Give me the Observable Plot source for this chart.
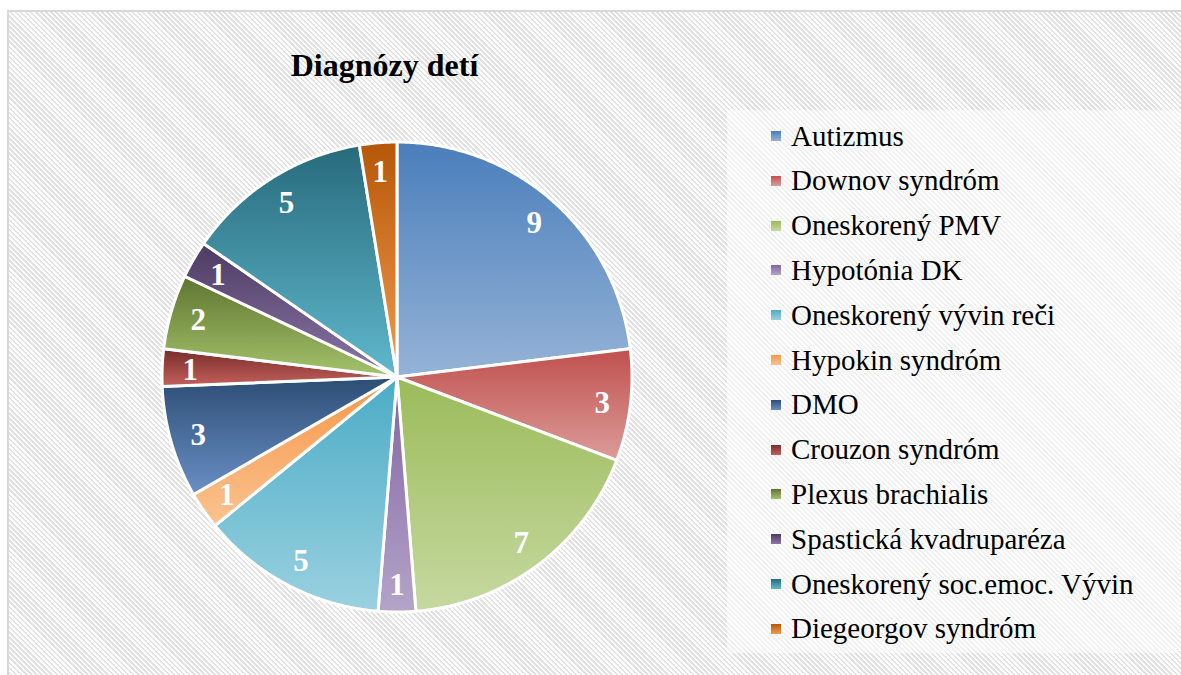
<!DOCTYPE html>
<html>
<head>
<meta charset="utf-8">
<script src="https://cdn.jsdelivr.net/npm/d3@7"></script>
<script src="https://cdn.jsdelivr.net/npm/@observablehq/plot@0.6"></script>
<style>
  html, body { margin: 0; padding: 0; background: #fff; }
  #wrap { position: relative; width: 1181px; height: 675px; overflow: hidden; font-family: "Liberation Serif", "Times New Roman", serif; }
  #frame { position: absolute; left: 7px; top: 10px; width: 1200px; height: 700px;
    border-left: 2px solid #d9d9d9; border-top: 2px solid #d9d9d9;
    background: repeating-linear-gradient(45deg, #ffffff 0px, #ffffff 1.8px, #e2e2e2 1.8px, #e2e2e2 3.6px); }
  #title { position: absolute; left: 0; width: 769px; top: 49px; text-align: center; font-size: 32px; line-height: 32px; font-weight: bold; color: #000; }
  #legendBox { position: absolute; left: 727px; top: 110px; width: 470px; height: 543px; background: rgba(255,255,255,0.5); }
  #legend { position: absolute; left: 771px; top: 113.6px; }
  .row { display: flex; align-items: center; height: 44.8px; font-size: 29px; line-height: 44.8px; color: #000; white-space: nowrap; }
  .sw { width: 10px; height: 10px; margin-right: 10px; flex: none; }
  #chart { position: absolute; left: 0; top: 0; }
</style>
</head>
<body>
<div id="wrap">
  <div id="frame"></div>
  <div id="legendBox"></div>
  <div id="title"></div>
  <div id="chart"></div>
  <div id="legend"></div>
</div>
<script>
const title = "Diagnózy detí";
const categories = ["Autizmus", "Downov syndróm", "Oneskorený PMV", "Hypotónia DK", "Oneskorený vývin reči", "Hypokin syndróm", "DMO", "Crouzon syndróm", "Plexus brachialis", "Spastická kvadruparéza", "Oneskorený soc.emoc. Vývin", "Diegeorgov syndróm"];
const values = [9, 3, 7, 1, 5, 1, 3, 1, 2, 1, 5, 1];
const topColors = ["#4a7ebb", "#c0504d", "#9bbb59", "#8064a2", "#4bacc6", "#f79646", "#2c4d75", "#772c2a", "#5f7530", "#4d3b62", "#276a7c", "#b65708"];
const bottomColors = ["#95b3d7", "#dc9c9a", "#c6d9a1", "#b4a4c8", "#9ad1e0", "#fac391", "#6a8fc4", "#c4605c", "#a5c36c", "#8c77a8", "#60b8cc", "#f29b4e"];

document.getElementById("title").textContent = title;

const data = categories.map((c, i) => ({category: c, value: values[i], index: i}));
const arcs = d3.pie().sort(null).value(d => d.value)(data);

const step = Math.PI / 360;
const polyPoints = [];
const labels = [];
arcs.forEach(a => {
  const name = a.data.category;
  polyPoints.push({category: name, x: 0, y: 0});
  const n = Math.max(2, Math.ceil((a.endAngle - a.startAngle) / step));
  for (let k = 0; k <= n; k++) {
    const t = a.startAngle + (a.endAngle - a.startAngle) * k / n;
    polyPoints.push({category: name, x: Math.sin(t), y: Math.cos(t)});
  }
  polyPoints.push({category: name, x: 0, y: 0});
  const mid = (a.startAngle + a.endAngle) / 2;
  labels.push({x: 0.88 * Math.sin(mid), y: 0.88 * Math.cos(mid), text: String(a.data.value)});
});

const gradIds = categories.map((c, i) => `url(#sliceGrad${i})`);

const cx = 396.5, cy = 376.5, r = 235;
const svg = Plot.plot({
  width: 1181,
  height: 675,
  style: {background: "transparent", overflow: "visible"},
  x: {domain: [-1, 1], range: [cx - r, cx + r], axis: null},
  y: {domain: [-1, 1], range: [cy + r, cy - r], axis: null},
  color: {domain: categories, range: gradIds},
  marks: [
    Plot.line(polyPoints, {x: "x", y: "y", z: "category", fill: "category", stroke: "white", strokeWidth: 3, strokeLinejoin: "miter", strokeMiterlimit: 4}),
    Plot.text(labels, {x: "x", y: "y", text: "text", fill: "white", fontSize: 31, fontWeight: "bold", fontFamily: "Liberation Serif", dy: 1})
  ]
});

const defs = d3.select(svg).insert("defs", ":first-child");
categories.forEach((c, i) => {
  const g = defs.append("linearGradient").attr("id", `sliceGrad${i}`)
    .attr("x1", 0).attr("y1", 0).attr("x2", 0).attr("y2", 1);
  g.append("stop").attr("offset", "0%").attr("stop-color", topColors[i]);
  g.append("stop").attr("offset", "100%").attr("stop-color", bottomColors[i]);
});

document.getElementById("chart").appendChild(svg);

const legend = document.getElementById("legend");
categories.forEach((c, i) => {
  const row = document.createElement("div");
  row.className = "row";
  const sw = document.createElement("div");
  sw.className = "sw";
  sw.style.background = `linear-gradient(to bottom, ${topColors[i]}, ${bottomColors[i]})`;
  const tx = document.createElement("span");
  tx.textContent = c;
  row.appendChild(sw);
  row.appendChild(tx);
  legend.appendChild(row);
});
</script>
</body>
</html>
